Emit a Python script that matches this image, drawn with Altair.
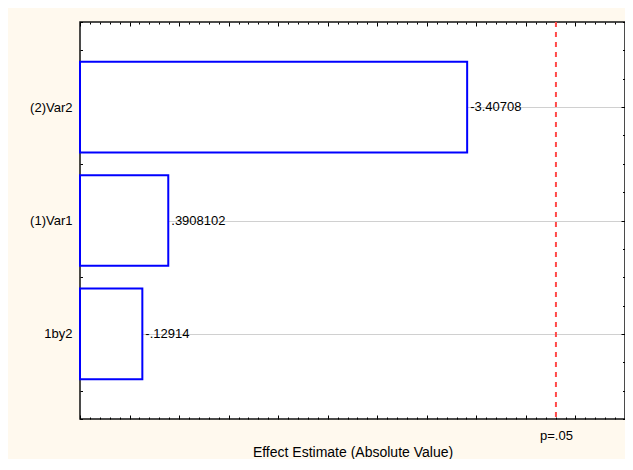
import json
import altair as alt
import pandas as pd

# ---- data ----
effects = ["(2)Var2", "(1)Var1", "1by2"]
estimates = [-3.40708, 0.3908102, -0.12914]
ranks = [1, 2, 3]
p_crit = [4.303]
p_label = "p=.05"
x_title = "Effect Estimate (Absolute Value)"
x_domain = [-0.5, 5.0]
y_domain = [0.25, 3.75]
x_ticks = [round(-0.5 + 0.1 * i, 1) for i in range(56)]
y_ticks = [0.25 + 0.25 * i for i in range(15)]


def fmt(v):
    s = repr(v)
    if s.startswith("0.") or s.startswith("-0."):
        s = s.replace("0.", ".", 1)
    return s


df = pd.DataFrame({
    "effect": effects,
    "estimate": estimates,
    "absval": [abs(v) for v in estimates],
    "rank": ranks,
    "label": [fmt(v) for v in estimates],
})
pdf = pd.DataFrame({"p": p_crit})

FONT = "Liberation Sans"
major_x = "abs(datum.value*2 - round(datum.value*2)) < 1e-6"
major_y = "abs(datum.value - round(datum.value)) < 1e-6"
p_test = "abs(datum.value - %s) < 1e-6" % p_crit[0]

xscale = alt.Scale(domain=x_domain, nice=False, zero=False)
yscale = alt.Scale(domain=y_domain, nice=False, zero=False, reverse=True)

ylab_expr = "%s ? %s[round(datum.value) - 1] : ''" % (major_y, json.dumps(effects).replace('"', "'"))

axis_bottom = alt.Axis(
    orient="bottom", values=x_ticks + p_crit, domain=False, grid=False,
    tickSize={"condition": {"test": major_x, "value": -4}, "value": -2},
    tickOpacity={"condition": {"test": p_test, "value": 0}, "value": 1},
    tickColor="black",
    labelExpr="%s ? '%s' : ''" % (p_test, p_label),
    labelPadding=12, labelFlush=False, labelOverlap=False,
    labelFont=FONT, labelFontSize=13, labelColor="black",
    title=x_title, titleFont=FONT, titleFontSize=14, titleFontWeight="normal",
    titleColor="black", titleBaseline="alphabetic", titleY=37,
)
axis_top = alt.Axis(
    orient="top", values=x_ticks, domain=False, grid=False, labels=False,
    tickSize={"condition": {"test": major_x, "value": -4}, "value": -2},
    tickColor="black", title=None,
)
axis_left = alt.Axis(
    orient="left", values=y_ticks, domain=False,
    grid=True, gridColor="#a0a0a0", gridDash=[1, 1], gridWidth=1,
    gridOpacity={"condition": {"test": major_y, "value": 1}, "value": 0},
    tickSize={"condition": {"test": major_y, "value": -4}, "value": -2.5},
    tickColor="black",
    labelExpr=ylab_expr, labelPadding=12, labelOverlap=False,
    labelFont=FONT, labelFontSize=13, labelColor="black", title=None,
)
axis_right = alt.Axis(
    orient="right", values=y_ticks, domain=False, grid=False, labels=False,
    tickSize={"condition": {"test": major_y, "value": -4}, "value": -2.5},
    tickColor="black", title=None,
)

base = alt.Chart(df).transform_calculate(
    lo="datum.rank - 0.4", hi="datum.rank + 0.4"
)

bars = base.mark_rect(fill="white", stroke="#0000FF", strokeWidth=2).encode(
    x=alt.X("absval:Q", scale=xscale, axis=axis_bottom),
    x2=alt.value(0),
    y=alt.Y("lo:Q", scale=yscale, axis=axis_left),
    y2="hi:Q",
)

labels = base.mark_text(
    align="left", baseline="middle", dx=3, font=FONT, fontSize=13, color="black"
).encode(
    x=alt.X("absval:Q", scale=xscale, axis=axis_top),
    y=alt.Y("rank:Q", scale=yscale, axis=axis_right),
    text="label:N",
)

pline = alt.Chart(pdf).mark_rule(
    color="#FF4B4B", strokeDash=[5, 5], strokeWidth=2
).encode(x=alt.X("p:Q", scale=xscale, axis=None))

chart = (
    alt.layer(bars, labels, pline)
    .resolve_axis(x="independent", y="independent")
    .properties(
        width=545, height=397,
        autosize=alt.AutoSizeParams(type="none"),
        padding={"left": 72, "top": 14, "right": 0, "bottom": 40},
        background="#FFF9EE",
    )
    .configure_view(stroke="#111111", strokeWidth=1.5, fill="white")
)

chart.save("out.html", embed_options={"renderer": "svg", "actions": False})
